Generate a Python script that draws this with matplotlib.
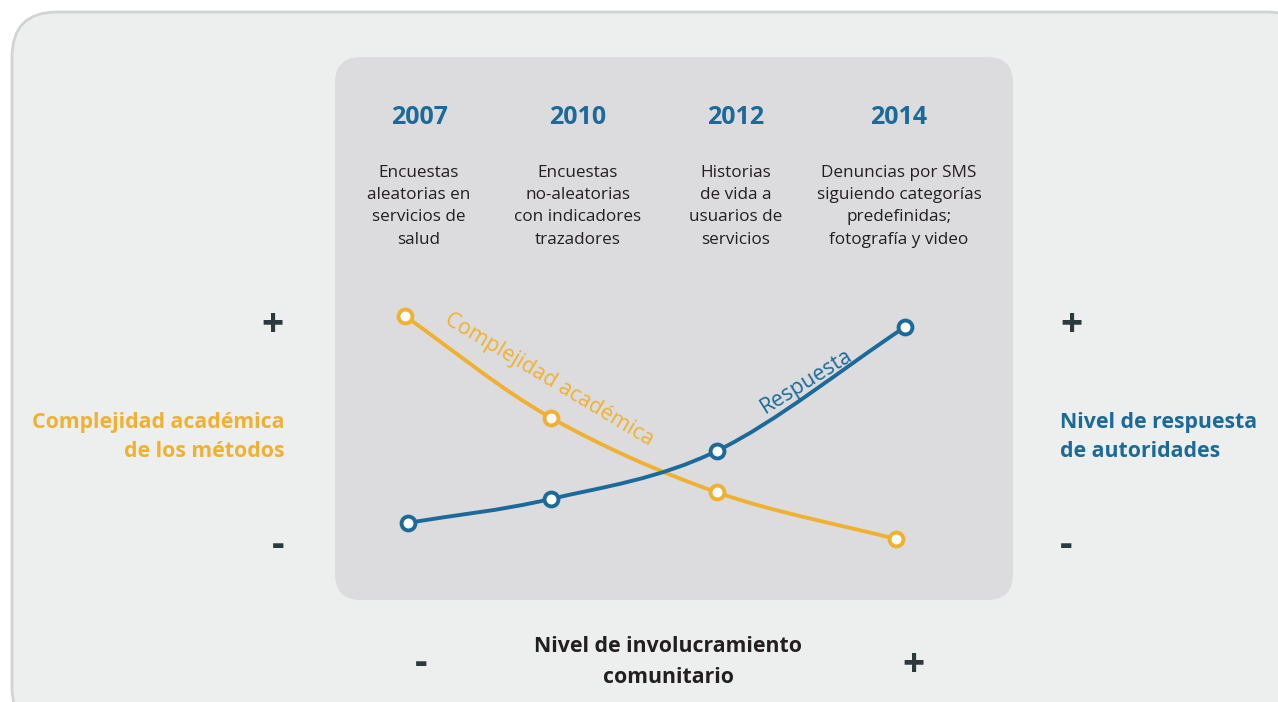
import numpy as np
import matplotlib.pyplot as plt
from matplotlib.patches import FancyBboxPatch, PathPatch
from matplotlib.path import Path

plt.rcParams['font.family'] = ['Open Sans', 'DejaVu Sans']

# 1. Data
years = ['2007', '2010', '2012', '2014']
methods = ['Encuestas\naleatorias en\nservicios de\nsalud',
           'Encuestas\nno-aleatorias\ncon indicadores\ntrazadores',
           'Historias\nde vida a\nusuarios de\nservicios',
           'Denuncias por SMS\nsiguiendo categorías\npredefinidas;\nfotografía y video']

# community involvement (x) and level (y), on a 0-10 scale
involucramiento_complejidad = [1.03, 3.18, 5.64, 8.28]
complejidad = [5.23, 3.36, 1.98, 1.12]
involucramiento_respuesta = [1.07, 3.18, 5.64, 8.41]
respuesta = [1.42, 1.86, 2.75, 5.03]

orange = '#f0b132'
blue = '#1b6a9a'
dark = '#2c3a3d'


def smooth_path(xs, ys):
    # Catmull-Rom through the points, written as cubic bezier segments
    p = np.column_stack([xs, ys])
    pts = np.vstack([2 * p[0] - p[1], p, 2 * p[-1] - p[-2]])
    verts = [pts[1]]
    codes = [Path.MOVETO]
    for i in range(1, len(pts) - 2):
        c1 = pts[i] + (pts[i + 1] - pts[i - 1]) / 6
        c2 = pts[i + 1] - (pts[i + 2] - pts[i]) / 6
        verts += [c1, c2, pts[i + 1]]
        codes += [Path.CURVE4] * 3
    return Path(verts, codes)


# 2. Layout
fig = plt.figure(figsize=(12.78, 7.02), dpi=100)
fig.patch.set_facecolor('white')

bg = fig.add_axes([0, 0, 1, 1])
bg.set_xlim(0, 1278)
bg.set_ylim(702, 0)
bg.axis('off')

bg.add_patch(FancyBboxPatch((12, 12), 1300, 720,
                            boxstyle='round,pad=0,rounding_size=45',
                            facecolor='#edeeee', edgecolor='#d2d3d3', linewidth=2))
bg.add_patch(FancyBboxPatch((335, 57), 678, 543,
                            boxstyle='round,pad=0,rounding_size=26',
                            facecolor='#dcdcde', edgecolor='none'))

col_x = [419, 578, 736, 899]
for cx, yr, txt in zip(col_x, years, methods):
    bg.text(cx, 118, yr, ha='center', va='center', fontsize=18,
            fontweight='bold', color=blue)
    bg.text(cx, 165, txt, ha='center', va='top', fontsize=12.3,
            color='#231f20', linespacing=1.52)

# side labels
bg.text(284, 437, 'Complejidad académica\nde los métodos', ha='right', va='center',
        fontsize=15.3, fontweight='bold', color=orange, linespacing=1.45)
bg.text(1060, 437, 'Nivel de respuesta\nde autoridades', ha='left', va='center',
        fontsize=15.3, fontweight='bold', color=blue, linespacing=1.45)
bg.text(668, 662, 'Nivel de involucramiento\ncomunitario', ha='center', va='center',
        fontsize=15.3, fontweight='bold', color='#231f20', linespacing=1.6)

for (px, py, s) in [(272, 325, '+'), (278, 545, '-'), (1071, 325, '+'),
                    (1066, 545, '-'), (421, 664, '-'), (913, 665, '+')]:
    bg.text(px, py, s, ha='center', va='center', fontsize=28,
            fontweight='bold', color=dark)

# 3. Curves
ax = fig.add_axes([335 / 1278, 102 / 702, 678 / 1278, 543 / 702])
ax.set_xlim(0, 10)
ax.set_ylim(0, 10)
ax.axis('off')
ax.patch.set_alpha(0)

ax.add_patch(PathPatch(smooth_path(involucramiento_complejidad, complejidad),
                       facecolor='none', edgecolor=orange, linewidth=2.8))
ax.add_patch(PathPatch(smooth_path(involucramiento_respuesta, respuesta),
                       facecolor='none', edgecolor=blue, linewidth=2.8))
ax.plot(involucramiento_complejidad, complejidad, 'o', markersize=10,
        markerfacecolor='white', markeredgecolor=orange, markeredgewidth=2.8)
ax.plot(involucramiento_respuesta, respuesta, 'o', markersize=10,
        markerfacecolor='white', markeredgecolor=blue, markeredgewidth=2.8)

bg.text(549, 380, 'Complejidad académica', ha='center', va='center', fontsize=15.5,
        color=orange, rotation=-31, rotation_mode='anchor')
bg.text(807, 381, 'Respuesta', ha='center', va='center', fontsize=15.5,
        color=blue, rotation=32, rotation_mode='anchor')

fig.savefig('out.png', dpi=100)
